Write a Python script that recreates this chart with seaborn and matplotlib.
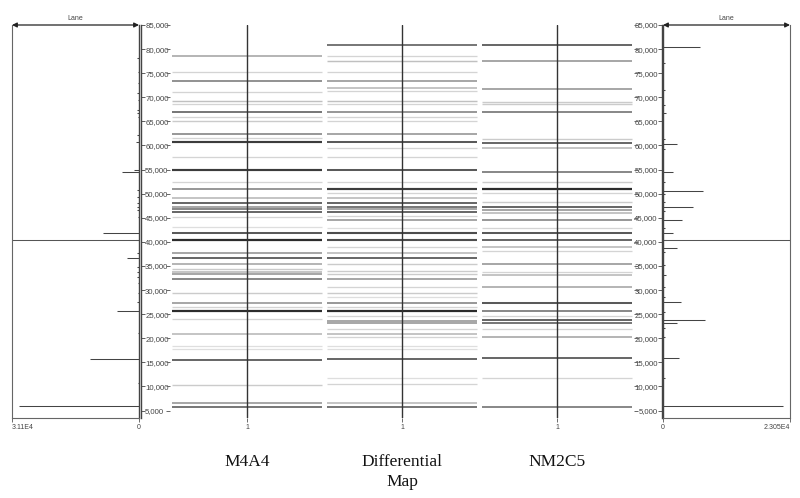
import matplotlib
matplotlib.use('Agg')
import matplotlib.pyplot as plt
import seaborn as sns

sns.set_style('white')
plt.rcParams['font.family'] = ['Liberation Sans', 'DejaVu Sans']

# Molecular weight axis (Da)
mw_ticks = list(range(5000, 90000, 5000))
mw_labels = [f'{v:,}' for v in mw_ticks]
mw_top = 85000
mw_bottom = 3450
cursor_mw = 40390

lane_names = ['M4A4', 'Differential\nMap', 'NM2C5']

# Bands per lane: molecular weight and relative intensity (0 = none, 1 = black)
m4a4_mw = [78600, 75200, 73380, 71035, 69290, 68610, 67010, 65970, 65140, 62380,
           61490, 60790, 57550, 54910, 52490, 51030, 49170, 48000, 47170, 46760,
           46260, 45220, 43020, 41780, 40390, 37630, 36720, 35350, 34310, 33690,
           33270, 32230, 29330, 27380, 26550, 25660, 24000, 20820, 18390, 17830,
           15490, 10300, 6630, 5670]
m4a4_int = [0.5, 0.3, 0.62, 0.3, 0.4, 0.3, 0.7, 0.3, 0.35, 0.6,
            0.3, 0.9, 0.3, 0.9, 0.3, 0.6, 0.45, 0.75, 0.55, 0.65,
            0.75, 0.3, 0.25, 0.8, 0.95, 0.55, 0.75, 0.5, 0.35, 0.45,
            0.55, 0.65, 0.35, 0.55, 0.3, 0.95, 0.3, 0.45, 0.25, 0.25,
            0.75, 0.35, 0.55, 0.7]

diff_mw = [80850, 78570, 77590, 75190, 73380, 71870, 71370, 69290, 68610, 67010,
           65970, 65140, 62380, 60790, 59420, 57550, 54910, 52490, 50910, 50080,
           49170, 48000, 47170, 46760, 46260, 45370, 44540, 42940, 41780, 40390,
           38880, 37630, 36720, 35350, 33960, 33270, 32230, 30700, 29330, 28500,
           27380, 26550, 25660, 24620, 23640, 23100, 21860, 20820, 20200, 18390,
           17830, 15630, 11690, 10450, 6630, 5670]
diff_int = [0.7, 0.3, 0.4, 0.3, 0.55, 0.45, 0.3, 0.4, 0.3, 0.6,
            0.3, 0.3, 0.55, 0.8, 0.3, 0.3, 0.8, 0.3, 0.9, 0.3,
            0.45, 0.75, 0.7, 0.55, 0.75, 0.3, 0.55, 0.25, 0.85, 0.85,
            0.3, 0.45, 0.75, 0.35, 0.35, 0.35, 0.55, 0.3, 0.35, 0.25,
            0.6, 0.3, 0.95, 0.3, 0.55, 0.55, 0.3, 0.45, 0.3, 0.25,
            0.25, 0.75, 0.25, 0.3, 0.45, 0.7]

nm2c5_mw = [80850, 77530, 71720, 69090, 68610, 66890, 61280, 60450, 59420, 54440,
            52490, 50910, 50080, 48340, 47300, 46610, 46050, 44540, 42820, 41780,
            40390, 38880, 38170, 35350, 33690, 33130, 30700, 27380, 25660, 24620,
            23730, 23100, 21860, 20200, 15840, 11820, 5670]
nm2c5_int = [0.75, 0.55, 0.55, 0.35, 0.35, 0.65, 0.35, 0.75, 0.45, 0.65,
             0.35, 0.95, 0.3, 0.35, 0.75, 0.55, 0.45, 0.6, 0.3, 0.8,
             0.75, 0.45, 0.3, 0.55, 0.3, 0.45, 0.5, 0.8, 0.65, 0.3,
             0.75, 0.7, 0.3, 0.5, 0.75, 0.3, 0.65]

# Lane intensity profiles shown in the side panels
left_max, left_max_label = 31100, '3.11E4'
left_mw = [54500, 41840, 36650, 25650, 15700, 5940,
           78150, 75250, 72960, 70890, 69440, 67360, 66740, 65910, 62180, 60730,
           54880, 50760, 49310, 48060, 47230, 46610, 45160, 40390, 37690, 34780,
           33740, 32710, 31460, 29390, 27520, 21090, 10720]
left_val = [4160, 8815, 2940, 5390, 12000, 29400,
            370, 300, 300, 500, 300, 400, 500, 300, 400, 800,
            1300, 400, 500, 600, 500, 500, 300, 800, 400, 400,
            600, 500, 300, 300, 600, 300, 300]

right_max, right_max_label = 23050, '2.305E4'
right_mw = [80435, 60310, 54500, 50555, 47235, 44540, 41840, 38730, 27520, 23790,
            23170, 15900, 5940,
            77120, 71510, 68400, 66740, 61340, 59270, 52420, 49930, 48270, 46400,
            42880, 40390, 37900, 35200, 33125, 30640, 28560, 25450, 22130, 20260, 11750]
right_val = [6715, 2540, 1815, 7260, 5445, 3450, 1815, 2540, 3270, 7620,
             2540, 2900, 21780,
             300, 300, 300, 500, 400, 300, 300, 400, 300, 300,
             300, 500, 300, 400, 500, 300, 300, 400, 300, 400, 300]

W, H = 800, 498
fig = plt.figure(figsize=(W / 100, H / 100), dpi=100)


def box(x0, y0, x1, y1):
    return [x0 / W, 1 - y1 / H, (x1 - x0) / W, (y1 - y0) / H]


ax_l = fig.add_axes(box(12, 25, 139, 418))
ax_c = fig.add_axes(box(141, 25, 662, 418))
ax_r = fig.add_axes(box(663, 25, 790, 418))

greys = sns.color_palette('Greys', as_cmap=True)


def draw_profile(ax, mw, val, vmax, max_label, flip):
    ax.hlines(mw, 0, val, colors='#444444', linewidth=0.75)
    ax.axhline(cursor_mw, color='#555555', linewidth=0.75)
    ax.set_ylim(mw_bottom, mw_top)
    ax.set_xlim((vmax, 0) if flip else (0, vmax))
    ax.set_yticks([])
    ax.set_xticks([vmax, 0], [max_label, '0'])
    ax.tick_params(axis='x', bottom=True, length=3, width=0.6, color='#555555',
                   labelsize=5, labelcolor='#444444', pad=1)
    ax.get_xticklabels()[0].set_horizontalalignment('left' if flip else 'right')
    for s in ax.spines.values():
        s.set_color('#666666')
        s.set_linewidth(0.8)
    inner = 'right' if flip else 'left'
    ax.spines[inner].set_linewidth(1.0)
    ax.spines[inner].set_color('#444444')
    ax.spines['top'].set_visible(False)
    ax.annotate('', xy=(0, 1), xytext=(1, 1), xycoords='axes fraction',
                arrowprops=dict(arrowstyle='<|-|>', color='#222222', lw=0.9,
                                shrinkA=0, shrinkB=0, mutation_scale=7),
                annotation_clip=False)
    ax.text(0.5, 1.008, 'Lane', transform=ax.transAxes, ha='center',
            va='bottom', fontsize=5, color='#444444')


draw_profile(ax_l, left_mw, left_val, left_max, left_max_label, True)
draw_profile(ax_r, right_mw, right_val, right_max, right_max_label, False)

# Central gel lanes
lanes = [(m4a4_mw, m4a4_int), (diff_mw, diff_int), (nm2c5_mw, nm2c5_int)]
half = 0.485
for pos, (mw, inten) in enumerate(lanes):
    colors = [greys(i * 0.9) for i in inten]
    widths = [(0.9 + 1.4 * i) * 0.72 for i in inten]
    ax_c.hlines(mw, pos - half, pos + half, colors=colors, linewidths=widths)
    ax_c.axvline(pos, color='#333333', linewidth=1.0)

ax_c.hlines(mw_ticks, -0.523, -0.497, colors='#666666', linewidth=0.7)
ax_c.hlines(mw_ticks, 2.497, 2.523, colors='#666666', linewidth=0.7)

ax_c.set_xlim(-0.684, 2.677)
ax_c.set_ylim(mw_bottom, mw_top)
ax_c.set_xticks([0, 1, 2], ['1', '1', '1'])
ax_c.tick_params(axis='x', bottom=True, direction='out', length=3, width=0.6,
                 color='#555555', labelsize=5, labelcolor='#444444', pad=1)
ax_c.set_yticks(mw_ticks, mw_labels)
ax_c.tick_params(axis='y', direction='in', length=3, width=0.6, color='#444444',
                 left=True, right=True, labelleft=True, labelright=True,
                 pad=-3, labelsize=5.6, labelcolor='#444444')
for t in ax_c.yaxis.get_major_ticks():
    t.label1.set_horizontalalignment('left')
    t.label2.set_horizontalalignment('right')
for side in ['top', 'bottom']:
    ax_c.spines[side].set_visible(False)
for side in ['left', 'right']:
    ax_c.spines[side].set_color('#444444')
    ax_c.spines[side].set_linewidth(1.0)

for pos, name in enumerate(lane_names):
    x_px = 247 + 155 * pos
    fig.text(x_px / W, 1 - 454 / H, name, ha='center', va='top',
             family=['Liberation Serif', 'DejaVu Serif'], fontsize=12.5,
             linespacing=1.35, color='#111111')

fig.savefig('out.png', dpi=100)
